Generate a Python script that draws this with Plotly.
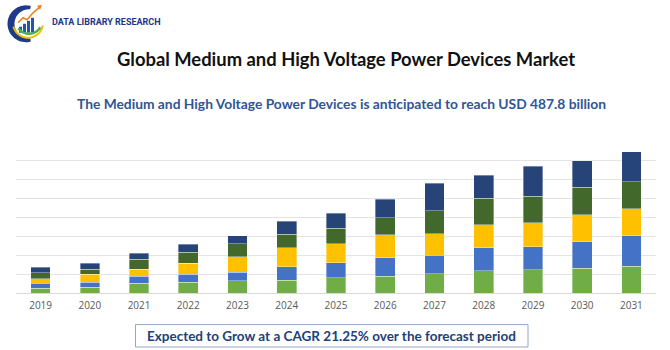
import math
import plotly.graph_objects as go

years = ["2019", "2020", "2021", "2022", "2023", "2024", "2025", "2026", "2027", "2028", "2029", "2030", "2031"]
seg1 = [4.8, 5.9, 10.2, 11.2, 12.9, 13.6, 16.0, 17.5, 20.2, 23.4, 24.4, 25.9, 28.3]
seg2 = [5.7, 5.6, 7.3, 8.4, 8.7, 13.9, 15.7, 19.6, 19.6, 24.1, 24.1, 28.3, 32.2]
seg3 = [4.5, 8.1, 7.7, 11.9, 16.5, 19.9, 20.2, 24.4, 22.8, 24.4, 25.2, 28.3, 28.3]
seg4 = [6.3, 5.6, 10.2, 11.2, 13.6, 14.7, 16.5, 17.8, 24.1, 28.0, 28.0, 28.6, 28.3]
seg5 = [5.6, 6.0, 6.6, 8.7, 8.4, 13.3, 15.7, 19.6, 28.6, 24.1, 31.5, 28.3, 31.8]
series = [seg1, seg2, seg3, seg4, seg5]
colors = ["#70AD47", "#4472C4", "#FFC000", "#43682B", "#264478"]

W, H = 670, 350
L, R, T, B = 16, 656, 140.7, 293.3

def px(x):
    return (x - L) / (R - L)

def py(y):
    return (B - y) / (B - T)

fig = go.Figure()
for vals, c in zip(series, colors):
    fig.add_trace(go.Bar(x=years, y=vals, marker=dict(color=c, line=dict(color="rgba(255,255,255,0.6)", width=0.6)),
                         showlegend=False, hoverinfo="skip"))

shapes = []
ann = []

ann.append(dict(text="<b>Global Medium and High Voltage Power Devices Market</b>", x=px(346), y=py(58),
                xref="paper", yref="paper", showarrow=False, xanchor="center", yanchor="middle",
                font=dict(family="Lato, Open Sans, sans-serif", size=18.4, color="#111111")))
ann.append(dict(text="<b>The Medium and High Voltage Power Devices is anticipated to reach USD 487.8 billion</b>",
                x=px(341), y=py(103), xref="paper", yref="paper", showarrow=False, xanchor="center", yanchor="middle",
                font=dict(family="Lato, Open Sans, sans-serif", size=13.8, color="#2F5597")))
shapes.append(dict(type="rect", xref="paper", yref="paper", x0=px(135.5), x1=px(528), y0=py(325), y1=py(347.5),
                   line=dict(color="#8EA9C8", width=1), fillcolor="white"))
ann.append(dict(text="<b>Expected to Grow at a CAGR 21.25% over the forecast period</b>", x=px(331), y=py(336),
                xref="paper", yref="paper", showarrow=False, xanchor="center", yanchor="middle",
                font=dict(family="Lato, Open Sans, sans-serif", size=13.5, color="#203F7A")))

# logo
def arc_pts(cx, cy, r, a0, a1, n=40):
    pts = []
    for i in range(n + 1):
        a = math.radians(a0 + (a1 - a0) * i / n)
        pts.append((px(cx + r * math.cos(a)), py(cy - r * math.sin(a))))
    return pts

def path_of(pts, close=False):
    s = "M " + " L ".join(f"{x:.5f},{y:.5f}" for x, y in pts)
    return s + (" Z" if close else "")

# navy crescent
cres = arc_pts(26, 23, 18.5, 75, 285) + arc_pts(29, 23, 14.5, 275, 85)
shapes.append(dict(type="path", xref="paper", yref="paper", path=path_of(cres, True),
                   line=dict(width=0), fillcolor="#1F3A8A"))
# yellow arc
shapes.append(dict(type="path", xref="paper", yref="paper", path=path_of(arc_pts(28, 22, 15, 195, 350)),
                   line=dict(color="#F2C200", width=2)))
# bars
for bx, bh in [(19, 6), (23, 9), (27, 12), (31, 15)]:
    shapes.append(dict(type="rect", xref="paper", yref="paper", x0=px(bx), x1=px(bx + 3), y0=py(32), y1=py(32 - bh),
                       line=dict(width=0), fillcolor="#2456A8"))
# green swoosh
shapes.append(dict(type="path", xref="paper", yref="paper", path=path_of(arc_pts(29, 20, 13, 215, 330)),
                   line=dict(color="#4CAF50", width=2.5)))
# orange arrow
arrow = [(18, 22), (23, 17), (27, 19), (33, 12), (40, 6)]
shapes.append(dict(type="path", xref="paper", yref="paper",
                   path=path_of([(px(a), py(b)) for a, b in arrow]) if False else
                   "M " + " L ".join(f"{px(a):.5f},{py(b):.5f}" for a, b in arrow),
                   line=dict(color="#F07F20", width=1.5)))
shapes.append(dict(type="path", xref="paper", yref="paper",
                   path="M " + " L ".join(f"{px(a):.5f},{py(b):.5f}" for a, b in [(37, 5), (42, 4), (40, 9)]) + " Z",
                   line=dict(width=0), fillcolor="#F07F20"))
ann.append(dict(text="<b>DATA LIBRARY RESEARCH</b>", x=px(50), y=py(21), xref="paper", yref="paper",
                showarrow=False, xanchor="left", yanchor="middle",
                font=dict(family="Roboto, sans-serif", size=9, color="#22358C")))

fig.update_layout(
    width=W, height=H,
    margin=dict(l=L, r=W - R, t=T, b=H - B),
    barmode="stack", bargap=0.6,
    plot_bgcolor="white", paper_bgcolor="white",
    shapes=shapes, annotations=ann,
    xaxis=dict(showgrid=False, tickfont=dict(family="Open Sans, sans-serif", size=10, color="#595959"),
               ticks="", showline=True, linecolor="#D9D9D9", linewidth=1, ticklabelstandoff=3),
    yaxis=dict(range=[0, 160], dtick=20, showticklabels=False, gridcolor="#E3E3E3", gridwidth=1,
               zeroline=False, showline=False, ticks=""),
)
fig.write_html("out.html")
